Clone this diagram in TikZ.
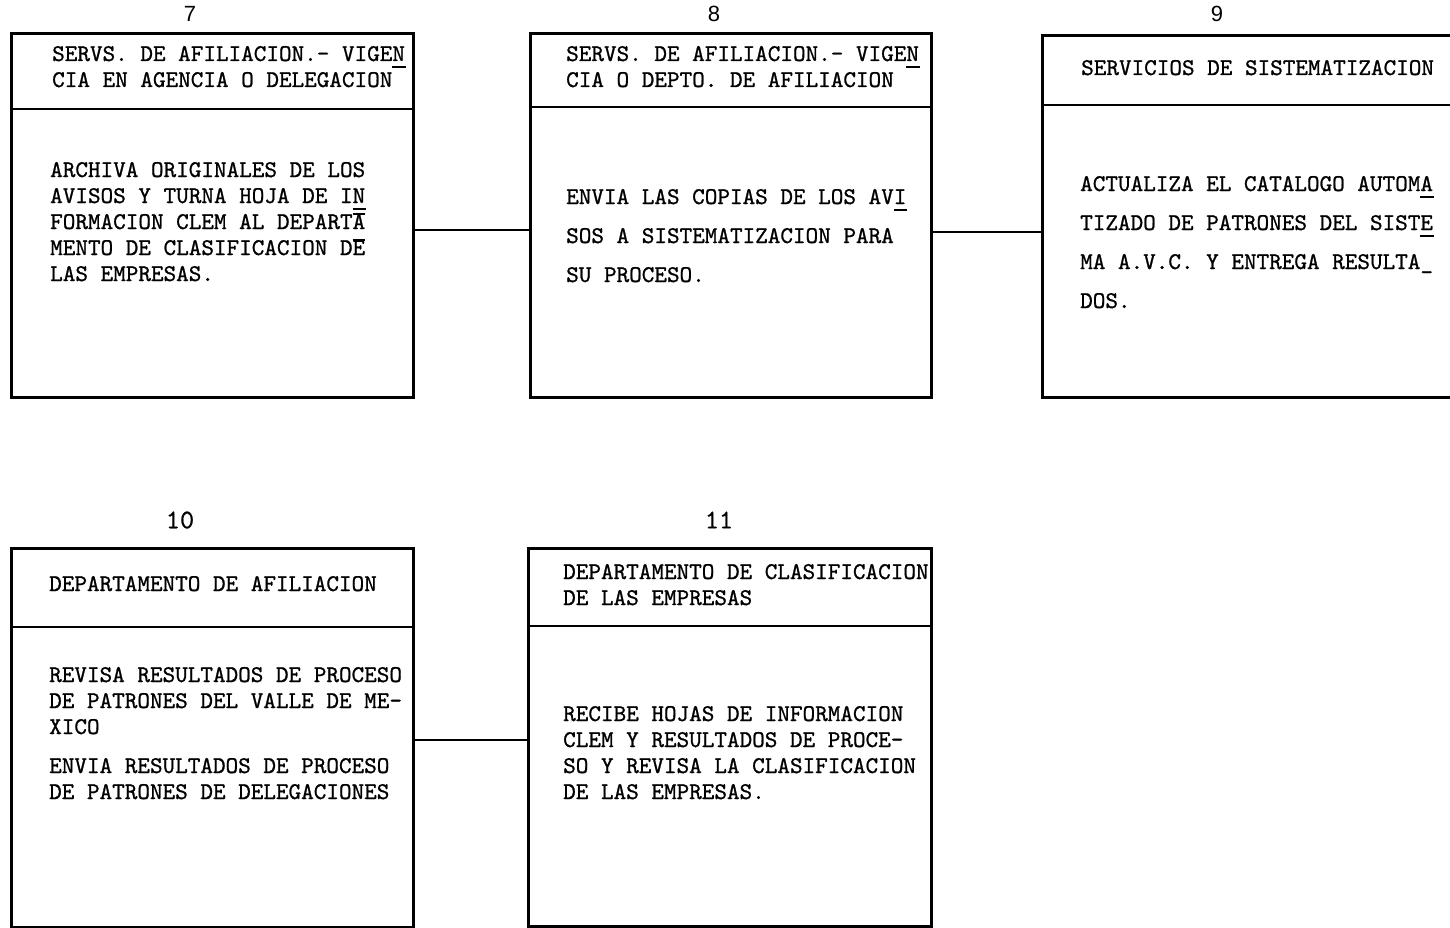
\documentclass[tikz,border=0pt]{standalone}
\usepackage{fontspec}
\newfontfamily\tw[FakeBold=0.9]{lmmono10-regular.otf}
\newfontfamily\twn[FakeBold=0.6]{lmmono10-regular.otf}
\newfontfamily\numsans{Liberation Sans}
\newcommand\unl[1]{\rlap{\rule[-0.28em]{0.55em}{0.07em}}#1}
\newcommand\ovl[1]{\rlap{\rule[0.6em]{0.53em}{0.07em}}#1}
\tikzset{
  box/.style={draw, line width=2.6pt, anchor=north west, inner sep=0pt, minimum width=#1},
  sep/.style={line width=2.4pt},
  link/.style={line width=2.2pt},
  txt/.style={anchor=base west, inner sep=0pt, align=left, font=\tw\fontsize{24}{26}\selectfont},
  wide/.style={font=\tw\fontsize{24}{39}\selectfont},
  numA/.style={font=\numsans\fontsize{22}{24}\selectfont, inner sep=0pt},
  numB/.style={font=\twn\fontsize{27}{28}\selectfont, inner sep=0pt}
}
\begin{document}
\begin{tikzpicture}[x=1pt,y=-1pt]
\useasboundingbox (0,0) rectangle (1450,928);
\clip (0,0) rectangle (1450,928);
\fill[white] (0,0) rectangle (1450,928);
% boxes
\node[box=402pt, minimum height=364pt] (b7) at (10,32) {};
\node[box=401pt, minimum height=364pt] (b8) at (529,32) {};
\node[box=414pt, minimum height=362pt] (b9) at (1041,34) {};
\node[box=402pt, minimum height=379pt] (b10) at (10,547) {};
\node[box=403pt, minimum height=378pt] (b11) at (527,547) {};
% dividers
\draw[sep] (b7.west |- 0,109) -- (b7.east |- 0,109);
\draw[sep] (b8.west |- 0,107) -- (b8.east |- 0,107);
\draw[sep] (b9.west |- 0,105) -- (b9.east |- 0,105);
\draw[sep] (b10.west |- 0,627) -- (b10.east |- 0,627);
\draw[sep] (b11.west |- 0,626) -- (b11.east |- 0,626);
% connectors
\draw[link] (b7.east |- 0,230) -- (b8.west |- 0,230);
\draw[link] (b8.east |- 0,232) -- (b9.west |- 0,232);
\draw[link] (b10.east |- 0,740) -- (b11.west |- 0,740);
% numbers
\node[numA] (n7) at (190,14) {7};
\node[numA] (n8) at (714,14) {8};
\node[numA] (n9) at (1217,14) {9};
\node[numB] (n10) at (180,520) {10};
\node[numB] (n11) at (719,520) {11};
% titles (anchor = baseline of the last line)
\node[txt] (t7) at (52,87) {SERVS. DE AFILIACION.- VIGE\unl{N}\\CIA EN AGENCIA O DELEGACION};
\node[txt] (t8) at (566,87) {SERVS. DE AFILIACION.- VIGE\unl{N}\\CIA O DEPTO. DE AFILIACION};
\node[txt] (t9) at (1081,75) {SERVICIOS DE SISTEMATIZACION};
\node[txt] (t10) at (49,591) {DEPARTAMENTO DE AFILIACION};
\node[txt] (t11) at (563,605) {DEPARTAMENTO DE CLASIFICACION\\DE LAS EMPRESAS};
% bodies
\node[txt] (d7) at (50,281) {ARCHIVA ORIGINALES DE LOS\\AVISOS Y TURNA HOJA DE I\unl{N}\\FORMACION CLEM AL DEPART\ovl{A}\\MENTO DE CLASIFICACION D\ovl{E}\\LAS EMPRESAS.};
\node[txt, wide] (d8) at (566,282) {ENVIA LAS COPIAS DE LOS AV\unl{I}\\SOS A SISTEMATIZACION PARA\\SU PROCESO.};
\node[txt, wide] (d9) at (1080,308) {ACTUALIZA EL CATALOGO AUTOM\unl{A}\\TIZADO DE PATRONES DEL SIST\unl{E}\\MA A.V.C. Y ENTREGA RESULTA\_\\DOS.};
\node[txt] (d10) at (49,799) {REVISA RESULTADOS DE PROCESO\\DE PATRONES DEL VALLE DE ME-\\XICO\\[13pt]ENVIA RESULTADOS DE PROCESO\\DE PATRONES DE DELEGACIONES};
\node[txt] (d11) at (563,799) {RECIBE HOJAS DE INFORMACION\\CLEM Y RESULTADOS DE PROCE-\\SO Y REVISA LA CLASIFICACION\\DE LAS EMPRESAS.};
\end{tikzpicture}
\end{document}
